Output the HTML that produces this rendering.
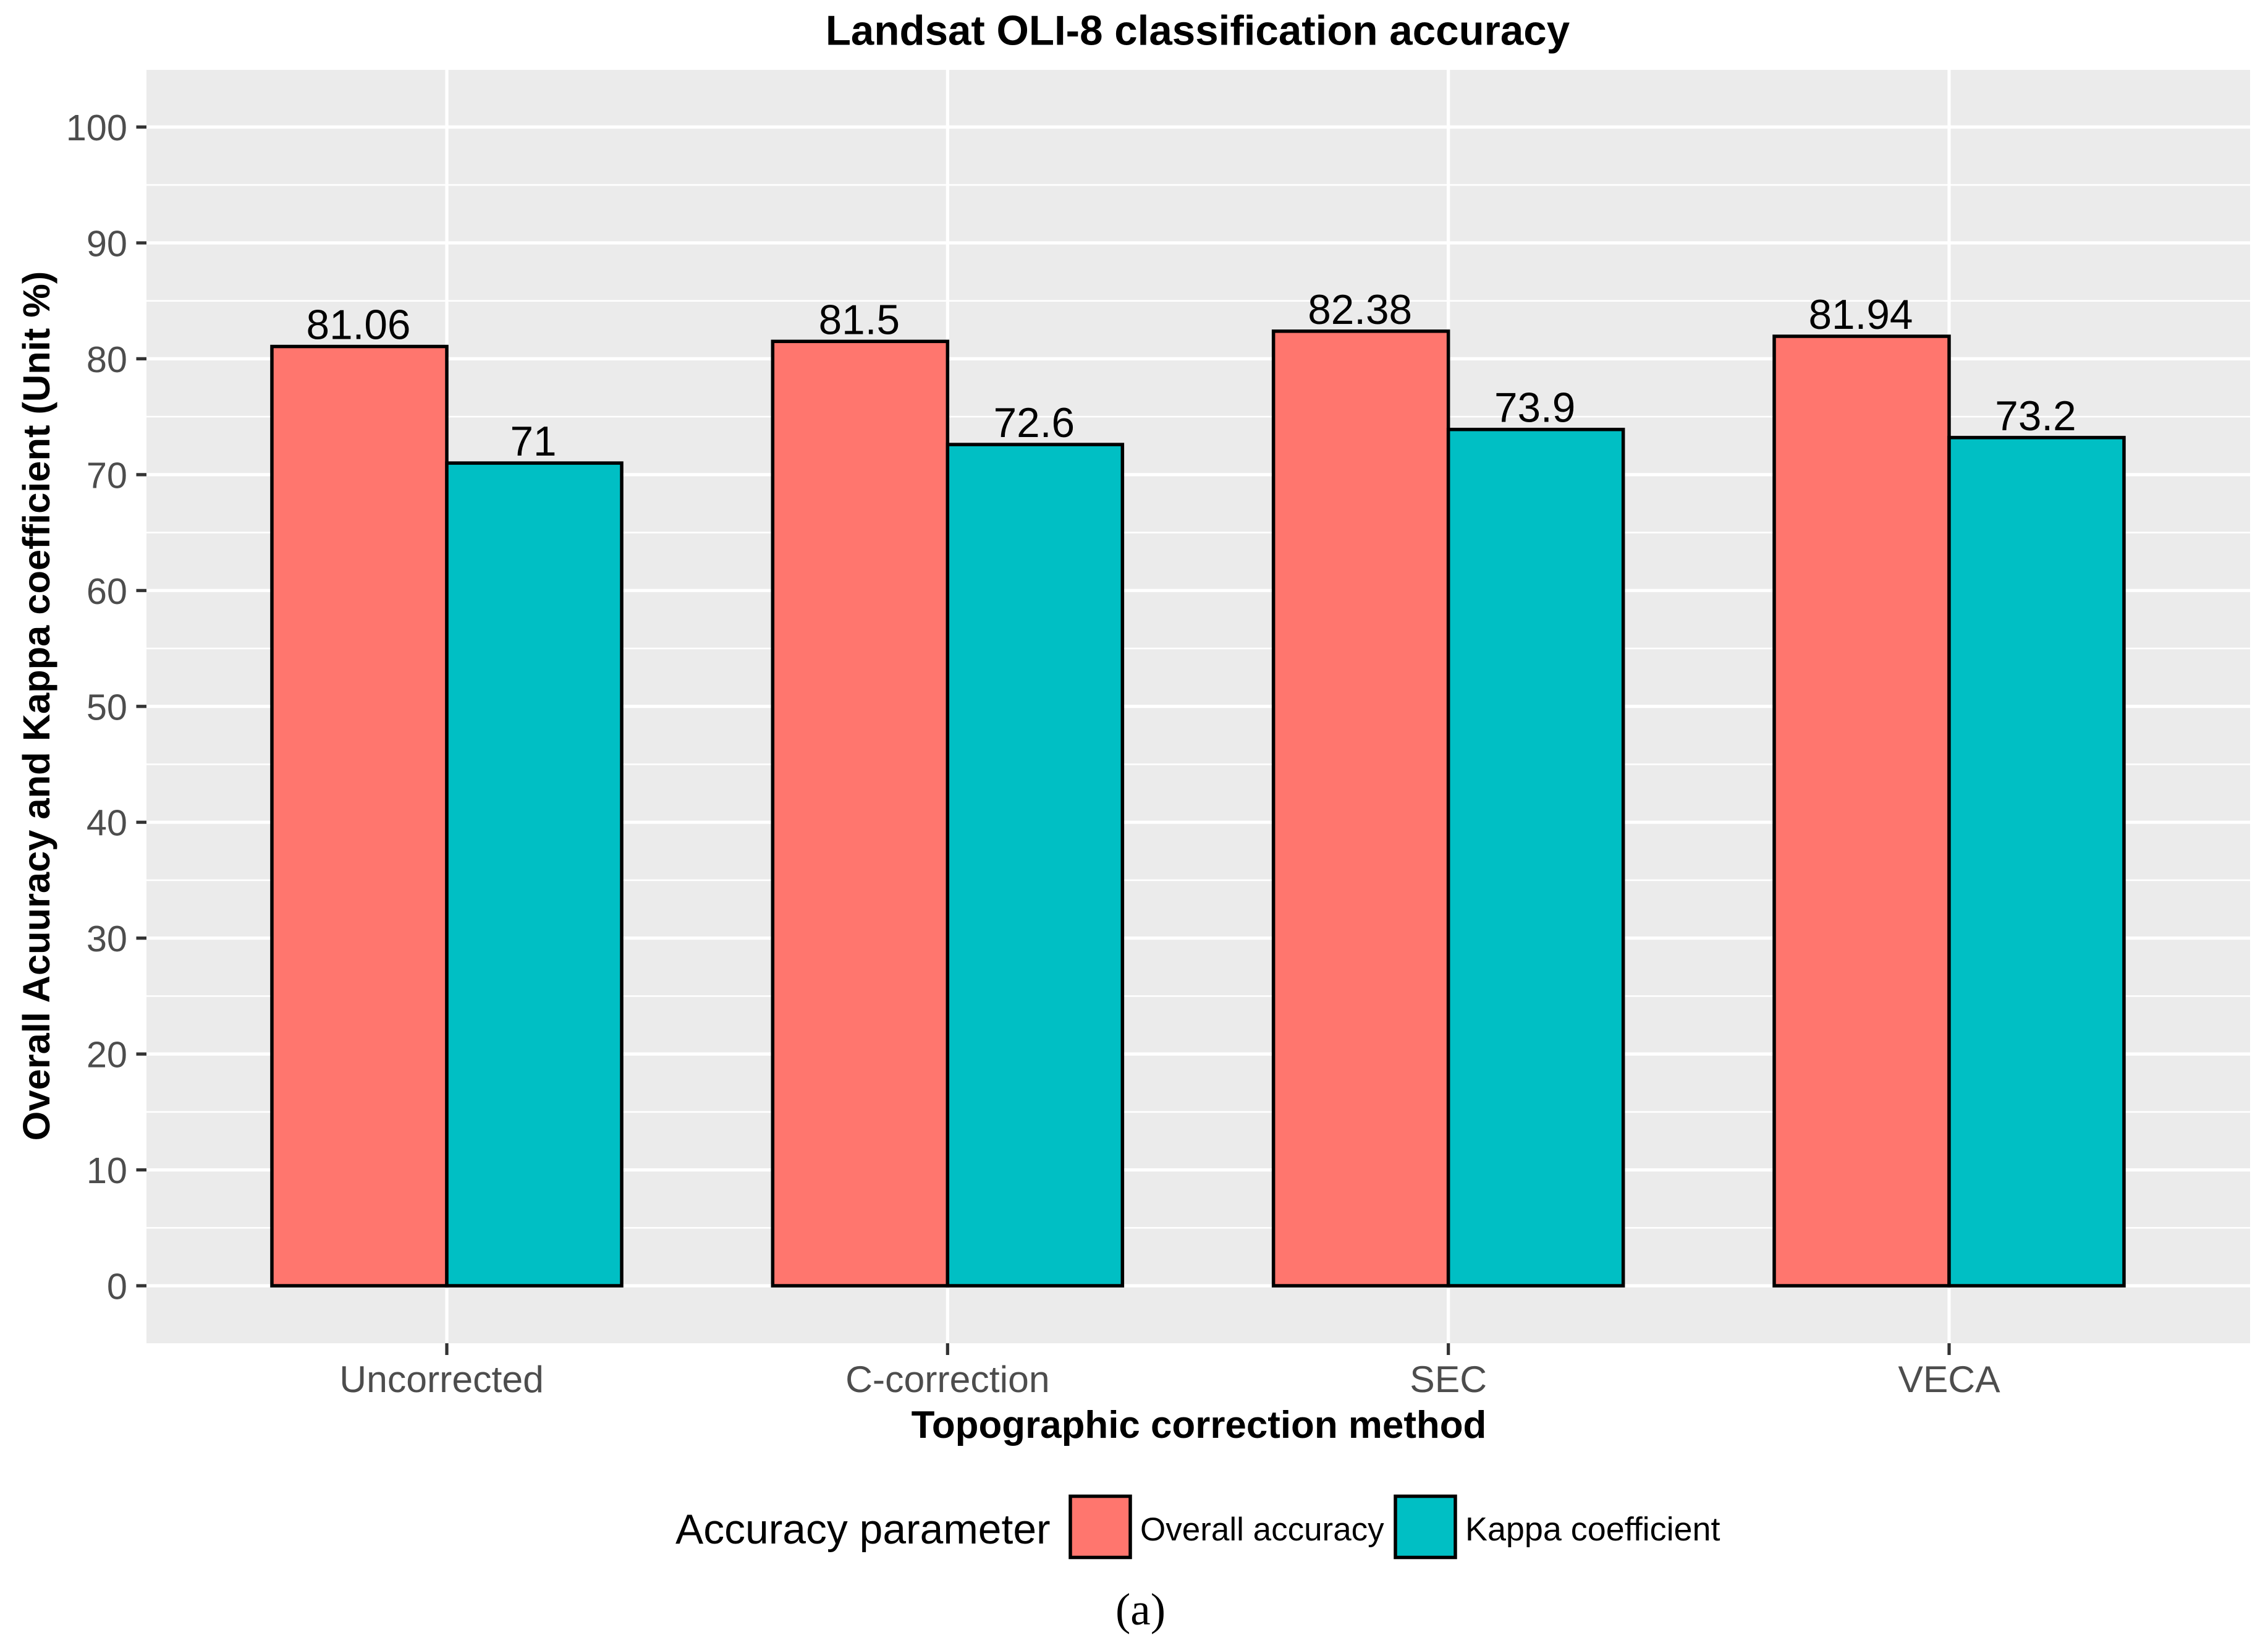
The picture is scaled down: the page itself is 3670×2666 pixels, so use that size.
<!DOCTYPE html>
<html lang="en">
<head>
<meta charset="utf-8">
<title>Landsat OLI-8 classification accuracy</title>
<style>
html,body{margin:0;padding:0;background:#fff;}
svg{display:block;}
text{font-family:"Liberation Sans",Arial,sans-serif;}
</style>
</head>
<body>
<svg id="chart" xmlns="http://www.w3.org/2000/svg" width="3670" height="2666" viewBox="0 0 3670 2666">
  <rect x="0" y="0" width="3670" height="2666" fill="#ffffff"/>
  <rect x="237" y="113" width="3404" height="2060" fill="#EBEBEB"/>
  <g id="grid"></g>
  <g id="bars"></g>
  <g id="labels"></g>
  <g id="yaxis"></g>
  <g id="xaxis"></g>

  <text x="1938" y="72.5" text-anchor="middle" font-size="67.3" font-weight="700" fill="#000">Landsat OLI-8 classification accuracy</text>
  <text x="1940" y="2326" text-anchor="middle" font-size="61.9" font-weight="700" fill="#000">Topographic correction method</text>
  <text transform="translate(80,1142) rotate(-90)" text-anchor="middle" font-size="61.4" font-weight="700" fill="#000">Overall Acuuracy and Kappa coefficient (Unit %)</text>

  <g>
    <text x="1093" y="2497" font-size="67.8" fill="#000">Accuracy parameter</text>
    <rect x="1732" y="2420.5" width="97" height="99" fill="#FF766E" stroke="#000" stroke-width="5.5"/>
    <text x="1845" y="2492" font-size="53" fill="#000">Overall accuracy</text>
    <rect x="2258" y="2420.5" width="97" height="99" fill="#00BFC4" stroke="#000" stroke-width="5.5"/>
    <text x="2371" y="2492" font-size="53.9" fill="#000">Kappa coefficient</text>
  </g>
  <text x="1845.5" y="2628" text-anchor="middle" font-size="73" fill="#000" style="font-family:'Liberation Serif',serif">(a)</text>
</svg>
<script>
var categories = ["Uncorrected\u00a0", "C-correction", "SEC", "VECA"];
var overallAccuracy = [81.06, 81.5, 82.38, 81.94];
var kappaCoefficient = [71, 72.6, 73.9, 73.2];
var yTicks = [0, 10, 20, 30, 40, 50, 60, 70, 80, 90, 100];
var yMinorTicks = [5, 15, 25, 35, 45, 55, 65, 75, 85, 95];

var SVGNS = "http://www.w3.org/2000/svg";
var panelLeft = 237, panelRight = 3641, panelTop = 113, panelBottom = 2173;
var y0px = 2080, yPerUnit = 18.745;
var x0px = 723, xStep = 810.33, barW = 283;

function yScale(v) { return y0px - v * yPerUnit; }
function xScale(i) { return x0px + i * xStep; }
function make(tag, attrs, parent) {
  var el = document.createElementNS(SVGNS, tag);
  for (var k in attrs) { el.setAttribute(k, attrs[k]); }
  parent.appendChild(el);
  return el;
}
var grid = document.getElementById("grid");
var bars = document.getElementById("bars");
var labels = document.getElementById("labels");
var yaxis = document.getElementById("yaxis");
var xaxis = document.getElementById("xaxis");

yMinorTicks.forEach(function (t) {
  var el = make("line", {x1: panelLeft, x2: panelRight, y1: yScale(t), y2: yScale(t), stroke: "#fff", "stroke-width": 2.6}, grid);
  
  
});
yTicks.forEach(function (t) {
  var y = yScale(t);
  var g = make("line", {x1: panelLeft, x2: panelRight, y1: y, y2: y, stroke: "#fff", "stroke-width": 5.2}, grid);
  
  
  var tick = make("line", {x1: 220.5, x2: panelLeft, y1: y, y2: y, stroke: "#333333", "stroke-width": 5.2}, yaxis);
  
  
  var lab = make("text", {x: 206, y: y + 21.5, "text-anchor": "end", "font-size": 59.5, fill: "#4D4D4D"}, yaxis);
  
  
  lab.textContent = String(t);
});
categories.forEach(function (c, i) {
  var x = xScale(i);
  var g = make("line", {x1: x, x2: x, y1: panelTop, y2: panelBottom, stroke: "#fff", "stroke-width": 5.2}, grid);
  
  
  var tick = make("line", {x1: x, x2: x, y1: panelBottom, y2: 2192, stroke: "#333333", "stroke-width": 5.2}, xaxis);
  
  
  var lab = make("text", {x: x, y: 2252, "text-anchor": "middle", "font-size": 60.7, fill: "#4D4D4D"}, xaxis);
  
  
  lab.setAttribute('xml:space', 'preserve');
  lab.textContent = c;

  var seriesValues = [overallAccuracy[i], kappaCoefficient[i]];
  var fills = ["#FF766E", "#00BFC4"];
  var names = ["bar-overall-accuracy", "bar-kappa-coefficient"];
  seriesValues.forEach(function (v, s) {
    var bx = x - barW + s * barW;
    var top = yScale(v);
    var bar = make("rect", {x: bx, y: top, width: barW, height: y0px - top, fill: fills[s], stroke: "#000", "stroke-width": 5.5}, bars);
    
    
    var vl = make("text", {x: bx + barW / 2 - 1.5, y: top - 12, "text-anchor": "middle", "font-size": 67.5, fill: "#000"}, labels);
    
    
    vl.textContent = String(v);
  });
});
</script>
</body>
</html>
